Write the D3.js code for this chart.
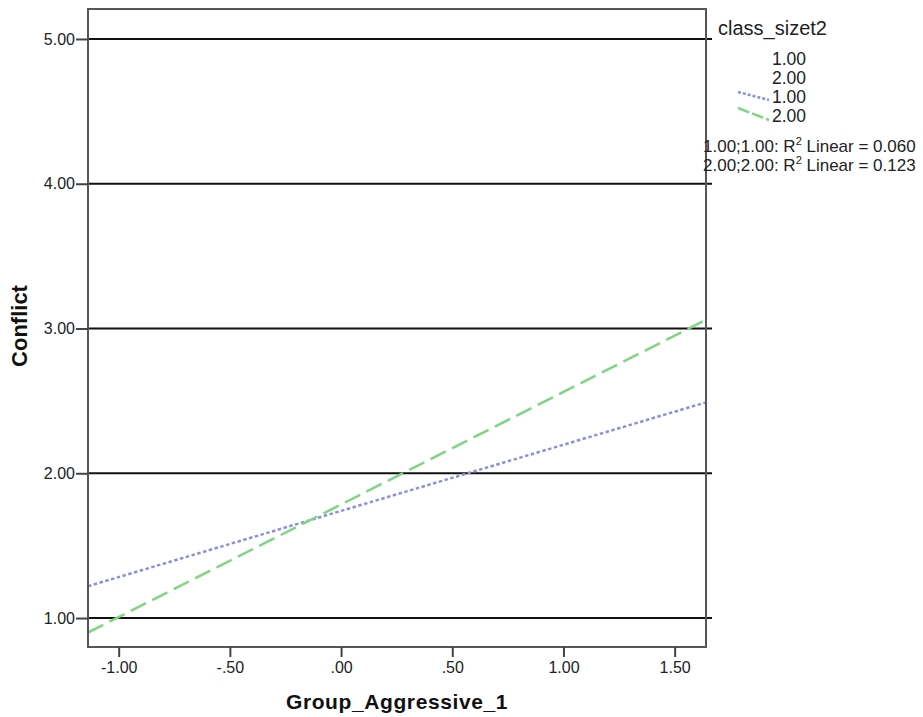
<!DOCTYPE html>
<html>
<head>
<meta charset="utf-8">
<script src="https://cdn.jsdelivr.net/npm/d3@7"></script>
<style>
  body { margin: 0; background: #fff; }
  text { font-family: "Liberation Sans", Arial, sans-serif; }
</style>
</head>
<body>
<div id="viz"></div>
<script>
// fitted line endpoints (x at the plot edges)
var xEnds = [-1.138, 1.641];
var fitSmall = [1.22, 2.49];   // class_sizet2 = 1.00
var fitLarge = [0.90, 3.06];   // class_sizet2 = 2.00

// tick values and labels
var yTicks = [1, 2, 3, 4, 5];
var yTickLabels = ["1.00", "2.00", "3.00", "4.00", "5.00"];
var xTicks = [-1, -0.5, 0, 0.5, 1, 1.5];
var xTickLabels = ["-1.00", "-.50", ".00", ".50", "1.00", "1.50"];

// legend texts
var legendTitle = "class_sizet2";
var legendMarkers = ["1.00", "2.00"];
var legendLines = ["1.00", "2.00"];
var r2Labels = ["1.00;1.00: R", "2.00;2.00: R"];
var r2Values = ["0.060", "0.123"];

var svg = d3.select('#viz').append('svg')
  .attr('width', 923)
  .attr('height', 717);

// plot frame
var plotLeft = 88, plotRight = 706, plotTop = 9, plotBottom = 647;

var x = d3.scaleLinear().domain([-1.138, 1.641]).range([plotLeft, plotRight]);
var y = d3.scaleLinear().domain([0.8, 5.207]).range([plotBottom, plotTop]);

// horizontal reference lines at each y tick
svg.selectAll('.hline')
  .data(yTicks)
  .enter()
  .append('line')
  .attr('class', 'hline')
  .attr('x1', plotLeft)
  .attr('x2', plotRight + 6)
  .attr('y1', function(d) { return y(d); })
  .attr('y2', function(d) { return y(d); })
  .attr('stroke', '#111')
  .attr('stroke-width', 2);

// clip for the fit lines
svg.append('clipPath').attr('id', 'plotClip')
  .append('rect')
  .attr('x', plotLeft).attr('y', plotTop)
  .attr('width', plotRight - plotLeft).attr('height', plotBottom - plotTop);

var line = d3.line()
  .x(function(d) { return x(d[0]); })
  .y(function(d) { return y(d[1]); });

var series = [
  { vals: fitSmall, color: '#8c90dc', dash: '3.5,2.5' },
  { vals: fitLarge, color: '#7fd682', dash: '17,7' }
];

svg.append('g').attr('clip-path', 'url(#plotClip)')
  .selectAll('path')
  .data(series)
  .enter()
  .append('path')
  .attr('d', function(s) { return line(xEnds.map(function(xv, i) { return [xv, s.vals[i]]; })); })
  .attr('fill', 'none')
  .attr('stroke', function(s) { return s.color; })
  .attr('stroke-width', 2.5)
  .attr('stroke-dasharray', function(s) { return s.dash; });

// frame
svg.append('rect')
  .attr('x', plotLeft).attr('y', plotTop)
  .attr('width', plotRight - plotLeft).attr('height', plotBottom - plotTop)
  .attr('fill', 'none')
  .attr('stroke', '#555')
  .attr('stroke-width', 2);

// y axis
var yAxis = svg.append('g')
  .attr('transform', 'translate(' + plotLeft + ',0)')
  .call(d3.axisLeft(y).tickValues(yTicks)
    .tickFormat(function(d, i) { return yTickLabels[i]; })
    .tickSize(12).tickPadding(1));
yAxis.select('.domain').remove();
yAxis.selectAll('line').attr('stroke', '#444').attr('stroke-width', 2);
yAxis.selectAll('text').attr('font-size', 16).attr('fill', '#222')
  .style('font-family', '"Liberation Sans", Arial, sans-serif');

// x axis
var xAxis = svg.append('g')
  .attr('transform', 'translate(0,' + plotBottom + ')')
  .call(d3.axisBottom(x).tickValues(xTicks)
    .tickFormat(function(d, i) { return xTickLabels[i]; })
    .tickSize(10).tickPadding(5));
xAxis.select('.domain').remove();
xAxis.selectAll('line').attr('stroke', '#444').attr('stroke-width', 2);
xAxis.selectAll('text').attr('font-size', 16).attr('fill', '#222')
  .style('font-family', '"Liberation Sans", Arial, sans-serif');

// axis titles
svg.append('text')
  .attr('x', (plotLeft + plotRight) / 2)
  .attr('y', 709)
  .attr('text-anchor', 'middle')
  .attr('font-size', 21)
  .attr('font-weight', 'bold')
  .attr('letter-spacing', 0.6)
  .attr('fill', '#111')
  .text('Group_Aggressive_1');

svg.append('text')
  .attr('transform', 'translate(27,326) rotate(-90)')
  .attr('text-anchor', 'middle')
  .attr('font-size', 22)
  .attr('font-weight', 'bold')
  .attr('fill', '#111')
  .text('Conflict');

// legend
var legend = svg.append('g');
legend.append('text')
  .attr('x', 718).attr('y', 35)
  .attr('font-size', 20).attr('fill', '#222')
  .text(legendTitle);

legend.selectAll('.lmark')
  .data(legendMarkers)
  .enter()
  .append('text')
  .attr('class', 'lmark')
  .attr('x', 806)
  .attr('y', function(d, i) { return 65 + i * 19; })
  .attr('text-anchor', 'end')
  .attr('font-size', 17.5).attr('fill', '#222')
  .text(function(d) { return d; });

legend.selectAll('.lline')
  .data(legendLines)
  .enter()
  .append('text')
  .attr('class', 'lline')
  .attr('x', 806)
  .attr('y', function(d, i) { return 103 + i * 19; })
  .attr('text-anchor', 'end')
  .attr('font-size', 17.5).attr('fill', '#222')
  .text(function(d) { return d; });

legend.selectAll('.lsample')
  .data(series)
  .enter()
  .append('line')
  .attr('class', 'lsample')
  .attr('x1', 738)
  .attr('x2', 769)
  .attr('y1', function(d, i) { return 92 + i * 16; })
  .attr('y2', function(d, i) { return 100 + i * 20; })
  .attr('stroke', function(s) { return s.color; })
  .attr('stroke-width', 2.5)
  .attr('stroke-dasharray', function(s, i) { return i === 0 ? '3,2' : '12,3'; });

var r2 = legend.selectAll('.r2')
  .data(r2Labels)
  .enter()
  .append('text')
  .attr('class', 'r2')
  .attr('x', 703)
  .attr('y', function(d, i) { return 152 + i * 19; })
  .attr('font-size', 17).attr('fill', '#222');
r2.append('tspan').text(function(d) { return d; });
r2.append('tspan').attr('dy', -7).attr('font-size', 11).text('2');
r2.append('tspan').attr('dy', 7).text(function(d, i) { return ' Linear = ' + r2Values[i]; });
</script>
</body>
</html>
